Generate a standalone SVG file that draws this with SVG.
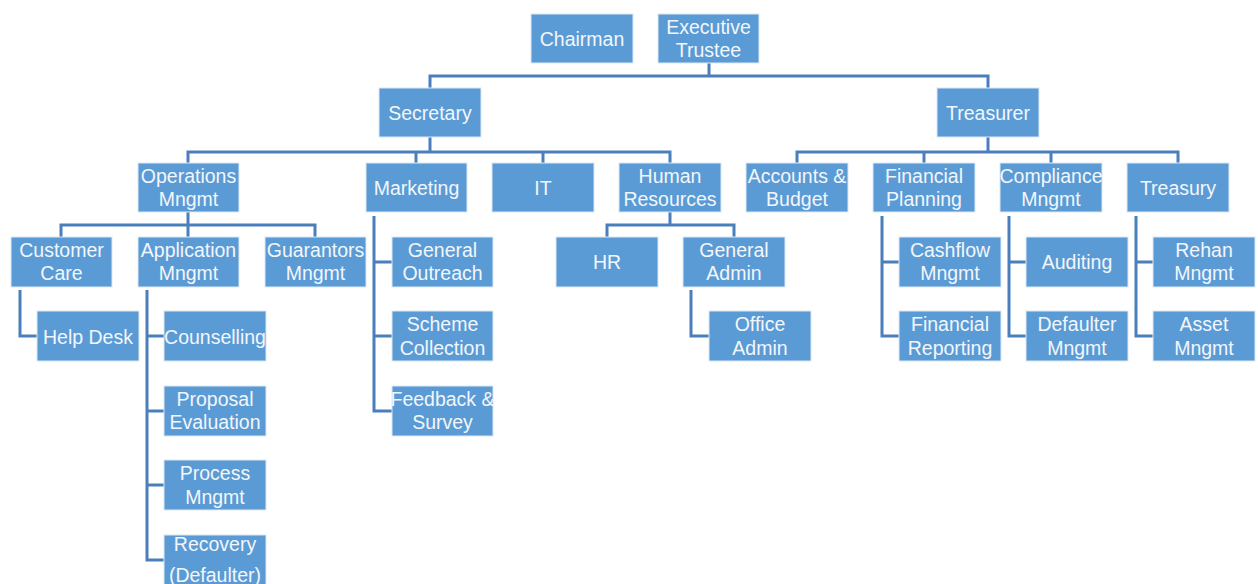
<svg xmlns="http://www.w3.org/2000/svg" width="1258" height="584" viewBox="0 0 1258 584">
<style>
.b{fill:#5B9BD5;stroke:#DCE8F4;stroke-width:1}
.t{font-family:"Liberation Sans",Arial,sans-serif;font-size:19.5px;fill:#F2F6FB;text-anchor:middle;dominant-baseline:central}
.c{fill:none;stroke:#4A7FBC;stroke-width:3}
</style>
<rect width="1258" height="584" fill="#FFFFFF"/>
<g id="connectors" class="c">
<path d="M709 63V76M430 88V76H988V88"/>
<path d="M430 137V152M188 163V152H670V163M416 152V163M543 152V163"/>
<path d="M988 137V152M797 163V152H1178V163M924 152V163M1051 152V163"/>
<path d="M188 212V225M61 237V225H315V237M188 225V237"/>
<path d="M670 212V225M607 237V225H734V237"/>
<path d="M20 290V336H37"/>
<path d="M147 290V560H164M147 336H164M147 411H164M147 485H164"/>
<path d="M374 216V411H392M374 262H392M374 336H392"/>
<path d="M691 290V336H709"/>
<path d="M882 216V336H899M882 262H899"/>
<path d="M1009 216V336H1026M1009 262H1026"/>
<path d="M1136 216V336H1153M1136 262H1153"/>
</g>
<g id="chairman"><rect class="b" x="531" y="14" width="102" height="49"/><text class="t" x="582" y="38.5">Chairman</text></g>
<g id="executive-trustee"><rect class="b" x="658" y="14" width="101" height="49"/><text class="t" x="708.5" y="27">Executive</text><text class="t" x="708.5" y="50">Trustee</text></g>
<g id="secretary"><rect class="b" x="379" y="88" width="102" height="49"/><text class="t" x="430" y="112.5">Secretary</text></g>
<g id="treasurer"><rect class="b" x="937" y="88" width="102" height="49"/><text class="t" x="988" y="112.5">Treasurer</text></g>
<g id="operations-mngmt"><rect class="b" x="138" y="163" width="101" height="49"/><text class="t" x="188.5" y="175.5">Operations</text><text class="t" x="188.5" y="198.5">Mngmt</text></g>
<g id="marketing"><rect class="b" x="366" y="163" width="101" height="49"/><text class="t" x="416.5" y="187.5">Marketing</text></g>
<g id="it"><rect class="b" x="492" y="163" width="102" height="49"/><text class="t" x="543" y="187.5">IT</text></g>
<g id="human-resources"><rect class="b" x="619" y="163" width="102" height="49"/><text class="t" x="670" y="175.5">Human</text><text class="t" x="670" y="198.5">Resources</text></g>
<g id="accounts-budget"><rect class="b" x="746" y="163" width="102" height="49"/><text class="t" x="797" y="175.5">Accounts &amp;</text><text class="t" x="797" y="198.5">Budget</text></g>
<g id="financial-planning"><rect class="b" x="873" y="163" width="102" height="49"/><text class="t" x="924" y="175.5">Financial</text><text class="t" x="924" y="198.5">Planning</text></g>
<g id="compliance-mngmt"><rect class="b" x="1000" y="163" width="102" height="49"/><text class="t" x="1051" y="175.5">Compliance</text><text class="t" x="1051" y="198.5">Mngmt</text></g>
<g id="treasury"><rect class="b" x="1127" y="163" width="102" height="49"/><text class="t" x="1178" y="187.5">Treasury</text></g>
<g id="customer-care"><rect class="b" x="11" y="237" width="101" height="50"/><text class="t" x="61.5" y="250">Customer</text><text class="t" x="61.5" y="273">Care</text></g>
<g id="application-mngmt"><rect class="b" x="138" y="237" width="101" height="50"/><text class="t" x="188.5" y="250">Application</text><text class="t" x="188.5" y="273">Mngmt</text></g>
<g id="guarantors-mngmt"><rect class="b" x="265" y="237" width="101" height="50"/><text class="t" x="315.5" y="250">Guarantors</text><text class="t" x="315.5" y="273">Mngmt</text></g>
<g id="help-desk"><rect class="b" x="37" y="311" width="102" height="50"/><text class="t" x="88" y="336.5">Help Desk</text></g>
<g id="counselling"><rect class="b" x="164" y="311" width="102" height="50"/><text class="t" x="215" y="336.5">Counselling</text></g>
<g id="proposal-evaluation"><rect class="b" x="164" y="386" width="102" height="50"/><text class="t" x="215" y="399">Proposal</text><text class="t" x="215" y="422">Evaluation</text></g>
<g id="process-mngmt"><rect class="b" x="164" y="460" width="102" height="50"/><text class="t" x="215" y="473">Process</text><text class="t" x="215" y="497">Mngmt</text></g>
<g id="recovery-defaulter"><rect class="b" x="164" y="535" width="102" height="50"/><text class="t" x="215" y="544">Recovery</text><text class="t" x="215" y="575">(Defaulter)</text></g>
<g id="general-outreach"><rect class="b" x="392" y="237" width="101" height="50"/><text class="t" x="442.5" y="250">General</text><text class="t" x="442.5" y="273">Outreach</text></g>
<g id="scheme-collection"><rect class="b" x="392" y="311" width="101" height="50"/><text class="t" x="442.5" y="324">Scheme</text><text class="t" x="442.5" y="348">Collection</text></g>
<g id="feedback-survey"><rect class="b" x="392" y="386" width="101" height="50"/><text class="t" x="442.5" y="399">Feedback &amp;</text><text class="t" x="442.5" y="422">Survey</text></g>
<g id="hr"><rect class="b" x="556" y="237" width="102" height="50"/><text class="t" x="607" y="261.5">HR</text></g>
<g id="general-admin"><rect class="b" x="683" y="237" width="102" height="50"/><text class="t" x="734" y="250">General</text><text class="t" x="734" y="273">Admin</text></g>
<g id="office-admin"><rect class="b" x="709" y="311" width="102" height="50"/><text class="t" x="760" y="324">Office</text><text class="t" x="760" y="348">Admin</text></g>
<g id="cashflow-mngmt"><rect class="b" x="899" y="237" width="102" height="50"/><text class="t" x="950" y="250">Cashflow</text><text class="t" x="950" y="273">Mngmt</text></g>
<g id="financial-reporting"><rect class="b" x="899" y="311" width="102" height="50"/><text class="t" x="950" y="324">Financial</text><text class="t" x="950" y="348">Reporting</text></g>
<g id="auditing"><rect class="b" x="1026" y="237" width="102" height="50"/><text class="t" x="1077" y="261.5">Auditing</text></g>
<g id="defaulter-mngmt"><rect class="b" x="1026" y="311" width="102" height="50"/><text class="t" x="1077" y="324">Defaulter</text><text class="t" x="1077" y="348">Mngmt</text></g>
<g id="rehan-mngmt"><rect class="b" x="1153" y="237" width="102" height="50"/><text class="t" x="1204" y="250">Rehan</text><text class="t" x="1204" y="273">Mngmt</text></g>
<g id="asset-mngmt"><rect class="b" x="1153" y="311" width="102" height="50"/><text class="t" x="1204" y="324">Asset</text><text class="t" x="1204" y="348">Mngmt</text></g>
</svg>
